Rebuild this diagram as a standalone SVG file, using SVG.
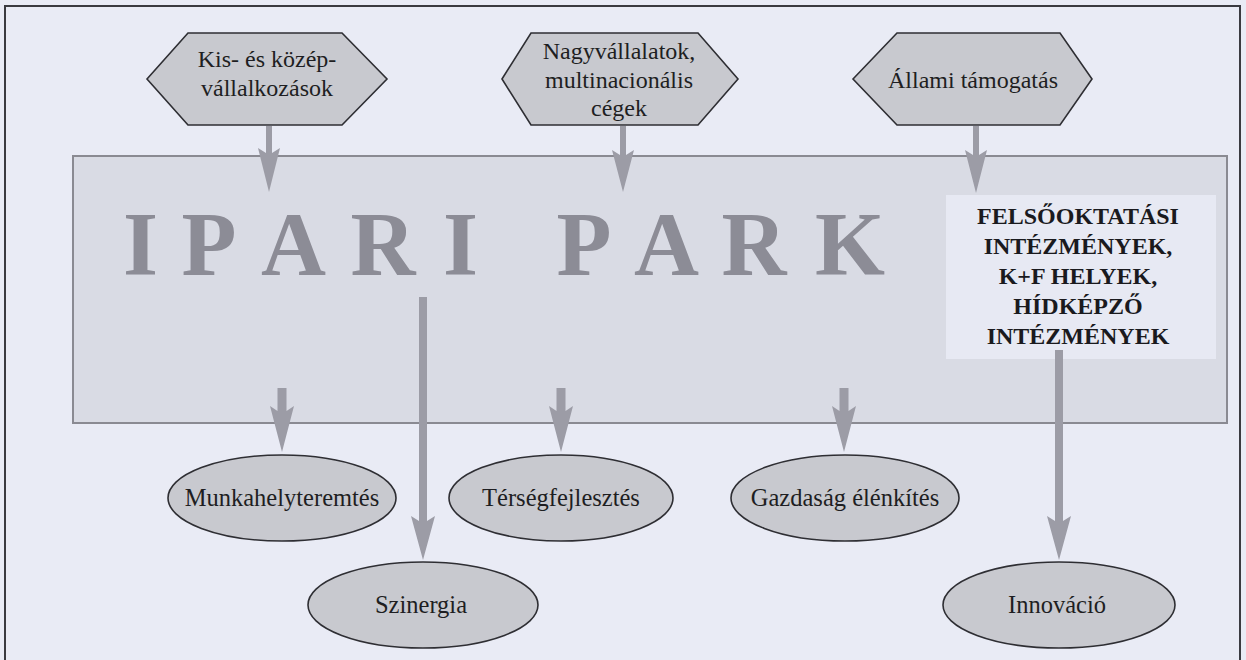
<svg xmlns="http://www.w3.org/2000/svg" width="1246" height="660" viewBox="0 0 1246 660">
<defs>
<style>
.t{font-family:"Liberation Serif",Tinos,"DejaVu Serif","Noto Serif",serif;font-size:24px;fill:#1e1e22;text-anchor:middle}
.e{font-family:"Liberation Serif",Tinos,"DejaVu Serif","Noto Serif",serif;font-size:24.5px;fill:#1e1e22;text-anchor:middle}
.b{font-family:"Liberation Serif",Tinos,"DejaVu Serif","Noto Serif",serif;font-size:24px;font-weight:bold;fill:#1a1a1e;text-anchor:middle}
.big{font-family:"Liberation Serif",Tinos,"DejaVu Serif","Noto Serif",serif;font-size:90px;font-weight:bold;fill:#8c8c96}
.hex{fill:#c8c9cf;stroke:#2e2e33;stroke-width:1.6}
.ell{fill:#c8c9cf;stroke:#2e2e33;stroke-width:1.6}
.arr{fill:#9c9ca6;stroke:none}
</style>
</defs>
<rect x="0" y="0" width="1246" height="660" fill="#e9ebf5"/>
<rect x="5" y="6" width="1235" height="664" fill="none" stroke="#3a3a40" stroke-width="2"/>

<g id="ipari-park">
<rect x="73" y="156" width="1154" height="267" fill="#d9dbe4" stroke="#8a8a92" stroke-width="2"/>
<text class="big" x="123 181.5 261 350.5 443 500 556.5 634 721.5 815" y="275">IPARI PARK</text>
</g>

<g id="felsooktatas">
<rect x="946" y="195" width="270" height="164" fill="#e7e9f3"/>
<text class="b" x="1078" y="224">FELSŐOKTATÁSI</text>
<text class="b" x="1078" y="254">INTÉZMÉNYEK,</text>
<text class="b" x="1078" y="284">K+F HELYEK,</text>
<text class="b" x="1078" y="314">HÍDKÉPZŐ</text>
<text class="b" x="1078" y="344">INTÉZMÉNYEK</text>
</g>

<g id="kkv">
<polygon class="hex" points="147,79 188,33 342,33 387,79 342,125 188,125"/>
<text class="t" x="267" y="67">Kis- és közép-</text>
<text class="t" x="267" y="96">vállalkozások</text>
</g>

<g id="nagyvallalatok">
<polygon class="hex" points="502,79 531,33 698,33 738,79 698,125 531,125"/>
<text class="t" x="619" y="59">Nagyvállalatok,</text>
<text class="t" x="619" y="88">multinacionális</text>
<text class="t" x="619" y="116">cégek</text>
</g>

<g id="allami">
<polygon class="hex" points="853,79 897,33 1060,33 1092,79 1060,125 897,125"/>
<text class="t" x="973" y="88">Állami támogatás</text>
</g>

<g id="munkahely">
<ellipse class="ell" cx="282" cy="498" rx="114" ry="43"/>
<text class="e" x="282" y="506">Munkahelyteremtés</text>
</g>

<g id="tersegfejlesztes">
<ellipse class="ell" cx="561" cy="498" rx="112" ry="43"/>
<text class="e" x="561" y="506">Térségfejlesztés</text>
</g>

<g id="gazdasag">
<ellipse class="ell" cx="845" cy="498" rx="114" ry="43"/>
<text class="e" x="845" y="506">Gazdaság élénkítés</text>
</g>

<g id="szinergia">
<ellipse class="ell" cx="423" cy="605" rx="115" ry="43"/>
<text class="e" x="421" y="613">Szinergia</text>
</g>

<g id="innovacio">
<ellipse class="ell" cx="1059" cy="605" rx="116" ry="43"/>
<text class="e" x="1057" y="613">Innováció</text>
</g>

<g id="connectors">
<polygon class="arr" points="266,126 272,126 272,153 280,148 269,192 258,148 266,153"/>
<polygon class="arr" points="620,126 626,126 626,155 634,150 623,192 612,150 620,155"/>
<polygon class="arr" points="973,126 979,126 979,155 987,150 976,193 965,150 973,155"/>
<polygon class="arr" points="277.5,388 286.5,388 286.5,411 294,406 282,452 270,406 277.5,411"/>
<polygon class="arr" points="556.5,388 565.5,388 565.5,411 573,406 561,452 549,406 556.5,411"/>
<polygon class="arr" points="839.5,388 848.5,388 848.5,411 856,406 844,452 832,406 839.5,411"/>
<polygon class="arr" points="419,297 427,297 427,521 435,516 423,560 411,516 419,521"/>
<polygon class="arr" points="1055,350 1063,350 1063,521 1071,516 1059,560 1047,516 1055,521"/>
</g>
</svg>
